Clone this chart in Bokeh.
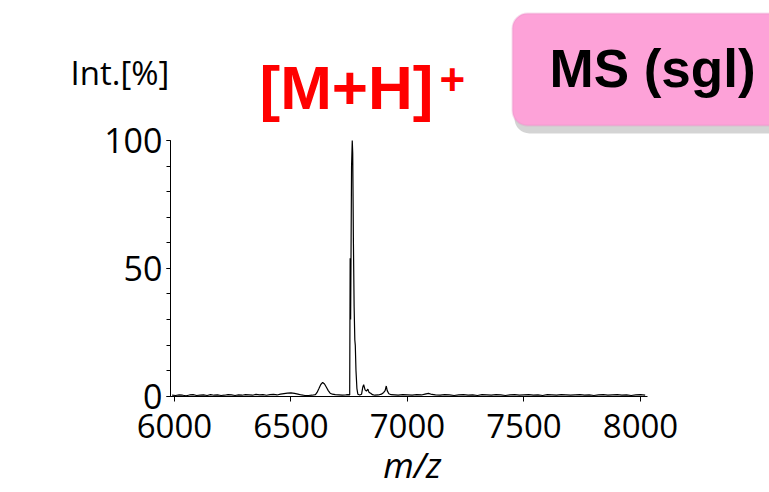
from bokeh.plotting import figure
from bokeh.models import (Range1d, FixedTicker, SingleIntervalTicker, Label,
                          BoxAnnotation)
from bokeh.embed import file_html
from bokeh.resources import INLINE

# ---------------- data ----------------
mz = [5990, 6005, 6020, 6035, 6050, 6065, 6080, 6095, 6110, 6125, 6140, 6155,
      6170, 6185, 6200, 6215, 6230, 6245, 6260, 6275, 6290, 6305, 6320, 6335,
      6350, 6365, 6380, 6395, 6410, 6425, 6440, 6455, 6470, 6485, 6500, 6515,
      6530, 6545, 6560, 6575, 6590, 6605, 6612, 6620, 6628, 6636, 6644, 6652,
      6660, 6668, 6678, 6690, 6705, 6720, 6735, 6745, 6752, 6754, 6756, 6760,
      6763, 6765, 6768, 6771, 6774, 6776, 6779, 6783, 6787, 6795, 6803, 6808,
      6812, 6818, 6824, 6830, 6835, 6842, 6850, 6860, 6875, 6888, 6898, 6904,
      6909, 6913, 6920, 6930, 6945, 6960, 6980, 7000, 7020, 7040, 7060, 7075,
      7090, 7105, 7120, 7140, 7160, 7180, 7200, 7220, 7240, 7260, 7280, 7300,
      7320, 7340, 7360, 7380, 7400, 7420, 7440, 7460, 7480, 7500, 7520, 7540,
      7560, 7580, 7600, 7620, 7640, 7660, 7680, 7700, 7720, 7740, 7760, 7780,
      7800, 7820, 7840, 7860, 7880, 7900, 7920, 7940, 7960, 7980, 8000, 8020]
intensity = [0.4, 0.3, 0.5, 0.4, 0.2, 0.5, 0.6, 0.3, 0.4, 0.5, 0.3, 0.6,
             0.4, 0.5, 0.3, 0.4, 0.6, 0.5, 0.3, 0.5, 0.4, 0.6, 0.5, 0.4,
             0.7, 0.5, 0.6, 0.4, 0.6, 0.7, 0.5, 0.8, 1.0, 1.2, 1.3, 1.1,
             0.8, 0.5, 0.3, 0.3, 0.4, 0.6, 1.5, 3.0, 4.6, 5.4, 4.8, 3.5,
             2.2, 1.2, 0.8, 0.6, 0.5, 0.4, 0.5, 0.6, 0.5, 54.0, 30.0, 90.0,
             100.0, 95.0, 60.0, 35.0, 22.0, 20.0, 10.0, 3.0, 0.8, 0.5, 0.8, 3.5,
             4.5, 2.5, 2.0, 2.8, 1.5, 1.2, 0.6, 0.4, 0.5, 0.8, 1.5, 2.2,
             4.0, 2.2, 1.0, 0.6, 0.5, 0.4, 0.6, 0.5, 0.4, 0.6, 0.5, 0.8,
             1.1, 0.7, 0.5, 0.4, 0.6, 0.5, 0.3, 0.5, 0.6, 0.4, 0.5, 0.3,
             0.6, 0.5, 0.4, 0.6, 0.5, 0.3, 0.5, 0.6, 0.4, 0.5, 0.6, 0.4,
             0.5, 0.3, 0.6, 0.5, 0.4, 0.6, 0.5, 0.4, 0.5, 0.6, 0.4, 0.5,
             0.3, 0.5, 0.6, 0.4, 0.5, 0.6, 0.4, 0.5, 0.3, 0.5, 0.6, 0.4]
x_ticks = [6000, 6500, 7000, 7500, 8000]
y_tick_step = 50

# ---------------- layout ----------------
W, H = 769, 492
# pixel box of the axes (left, right, top, bottom) and its data extent
FL, FR, FT, FB = 170, 647, 140, 396
X0, X1 = 5983, 8030
Y0, Y1 = -0.1, 100
SX = (X1 - X0) / (FR - FL)
SY = (Y1 - Y0) / (FB - FT)


def px_x(px):
    return X0 + (px - FL) * SX


def px_y(py):
    return Y0 + (FB - py) * SY


p = figure(width=W, height=H, output_backend="svg", toolbar_location=None,
           x_range=Range1d(px_x(0), px_x(W)), y_range=Range1d(px_y(H), px_y(0)),
           min_border=0)
p.outline_line_color = None
p.grid.visible = False
p.background_fill_color = "white"
p.border_fill_color = "white"

p.line(mz, intensity, line_color="black", line_width=1.2)

# axes (placed inside the full-canvas frame)
xa = p.xaxis[0]
xa.fixed_location = Y0
xa.bounds = (X0, X1)
xa.ticker = FixedTicker(ticks=x_ticks)
xa.major_tick_out = 5
xa.major_tick_in = 0
xa.minor_tick_out = 0
xa.axis_line_color = "black"
xa.major_tick_line_color = "black"
xa.major_label_text_font = "Open Sans"
xa.major_label_text_font_size = "33px"
xa.major_label_text_color = "black"
xa.major_label_standoff = 12

ya = p.yaxis[0]
ya.fixed_location = X0
ya.bounds = (Y0, Y1)
ya.ticker = SingleIntervalTicker(interval=y_tick_step, num_minor_ticks=5)
ya.major_tick_out = 4
ya.major_tick_in = 0
ya.minor_tick_out = 4
ya.minor_tick_in = 0
ya.axis_line_color = "black"
ya.major_tick_line_color = "black"
ya.minor_tick_line_color = "black"
ya.major_label_text_font = "Open Sans"
ya.major_label_text_font_size = "34px"
ya.major_label_text_color = "black"
ya.major_label_standoff = 4

# pink "MS (sgl)" box with shadow
shadow = BoxAnnotation(left=px_x(514), right=px_x(810), top=px_y(18),
                       bottom=px_y(133), fill_color="#a0a0a0", fill_alpha=0.45,
                       line_color=None, border_radius=15)
box = BoxAnnotation(left=px_x(512), right=px_x(800), top=px_y(13),
                    bottom=px_y(125), fill_color="#fda2d8", fill_alpha=1.0,
                    line_color="#e58bc3", line_width=2, border_radius=15)
p.add_layout(shadow)
p.add_layout(box)

p.add_layout(Label(x=px_x(549), y=px_y(68), text="MS (sgl)",
                   text_font="Liberation Sans", text_font_style="bold",
                   text_font_size="53px", text_color="black",
                   text_align="left", text_baseline="alphabetic"))

p.add_layout(Label(x=px_x(259), y=px_y(87), text="[M+H]",
                   text_font="Liberation Sans", text_font_style="bold",
                   text_font_size="62px", text_color="#ff0000",
                   text_align="left", text_baseline="alphabetic"))
p.add_layout(Label(x=px_x(439), y=px_y(79), text="+",
                   text_font="Liberation Sans", text_font_style="bold",
                   text_font_size="44px", text_color="#ff0000",
                   text_align="left", text_baseline="alphabetic"))

p.add_layout(Label(x=px_x(70), y=px_y(72), text="Int.[%]",
                   text_font="Open Sans", text_font_size="33px",
                   text_color="black", text_align="left",
                   text_baseline="alphabetic"))

p.add_layout(Label(x=px_x(412), y=px_y(464), text="m/z",
                   text_font="Open Sans", text_font_style="italic",
                   text_font_size="35px", text_color="black",
                   text_align="center", text_baseline="alphabetic"))

open("out.html", "w").write(file_html(p, INLINE))
